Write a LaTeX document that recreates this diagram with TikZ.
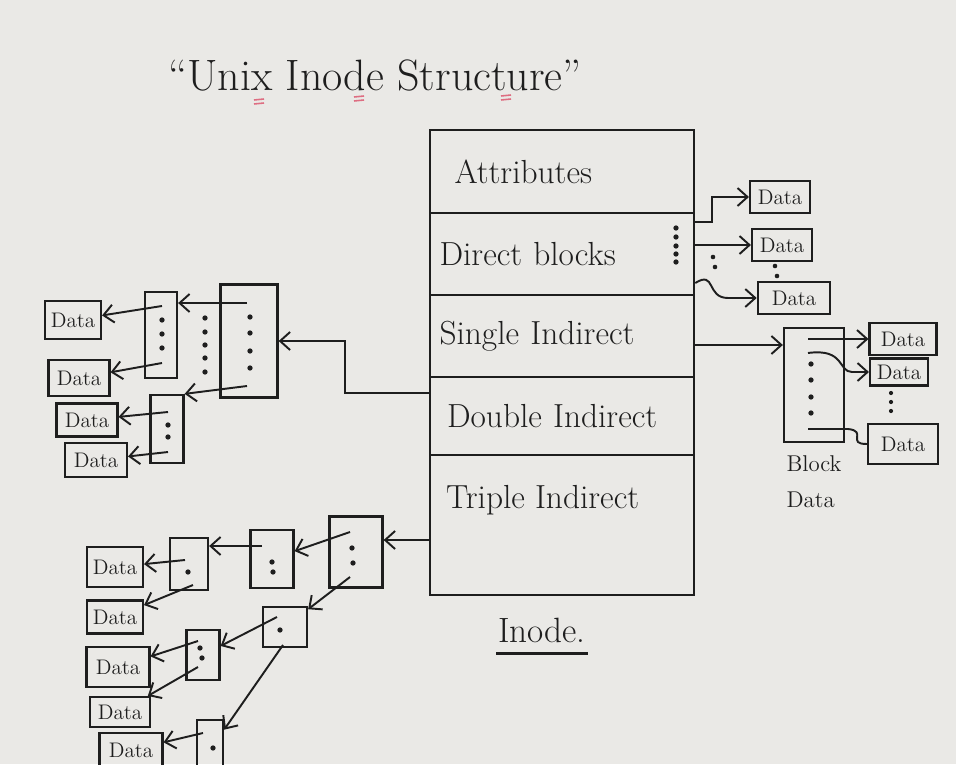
\documentclass[tikz,border=0pt]{standalone}
\usepackage{fontspec}
\usepackage{xcolor}
\usepackage{tikz}
\usetikzlibrary{arrows.meta,positioning}

\definecolor{board}{RGB}{234,233,230}
\definecolor{ink}{RGB}{30,30,30}
\definecolor{marker}{RGB}{222,110,130}

\begin{document}
\begin{tikzpicture}[
  x=0.02cm, y=-0.02cm,
  >={Straight Barb[length=2mm,width=3.6mm]},
  irow/.style={draw=ink, line width=1.5pt, text=ink, minimum width=5.28cm,
               text width=4.9cm, align=left, inner sep=0pt,
               font=\fontsize{19}{22}\selectfont},
  blk/.style={draw=ink, line width=1.3pt, inner sep=0pt},
  dbox/.style={draw=ink, line width=1.2pt, text=ink, minimum width=1.2cm,
               minimum height=0.64cm, inner sep=1pt, font=\fontsize{12}{14}\selectfont},
  ptr/.style={->, line width=1.1pt, draw=ink},
  wire/.style={line width=1.1pt, draw=ink},
  lbl/.style={text=ink, inner sep=1pt}
]
\useasboundingbox (0,0) rectangle (956,764);
\clip (0,0) rectangle (956,764);
\fill[board] (0,0) rectangle (956,764);

% title
\node[lbl, font=\fontsize{25}{30}\selectfont] (title) at (375,75) {“Unix Inode Structure”};
\foreach \mx/\my in {259/102,359/99,506/98}
  \draw[marker, line width=0.9pt] (\mx-5,\my-2) -- (\mx+5,\my-3) (\mx-5,\my+2) -- (\mx+5,\my+1);

% inode table
\node[irow, minimum height=1.66cm] (attr)   at (562,171.5) {\hspace{0.3cm}Attributes};
\node[irow, minimum height=1.64cm] (direct) at (562,254)   {Direct blocks};
\node[irow, minimum height=1.64cm] (single) at (562,336)   {Single Indirect};
\node[irow, minimum height=1.56cm] (double) at (562,416)   {\hspace{0.15cm}Double Indirect};
\node[irow, minimum height=2.8cm]  (triple) at (562,525)   {};
\node[lbl, font=\fontsize{19}{22}\selectfont, anchor=west] (tripletxt) at (444,500) {Triple Indirect};
\node[lbl, font=\fontsize{20}{24}\selectfont] (inodelbl) at (542,630) {Inode.};
\draw[wire, line width=1.5pt] ([yshift=-5pt]inodelbl.south west) -- ([yshift=-5pt]inodelbl.south east);
\foreach \dy in {228,237,246,254,262}
  \fill[ink] (676,\dy) circle (1.5pt);

% direct blocks
\node[dbox] (d1) at (780,197) {Data};
\node[dbox] (d2) at (782,245) {Data};
\node[dbox, minimum width=1.45cm] (d3) at (794,298) {Data};
\draw[ptr] (direct.east |- 0,222) -- (712,222) |- (d1);
\draw[ptr] (direct.east |- d2) -- (d2);
\draw[ptr] (direct.east |- 0,283) .. controls (716,270) and (706,298) .. (728,298) -- (d3);
\fill[ink] (713,257) circle (1.3pt) (715,267) circle (1.3pt)
           (775,266) circle (1.3pt) (777,276) circle (1.3pt);

% single indirect
\node[blk, minimum width=1.2cm, minimum height=2.28cm] (sblk) at (814,385) {};
\node[dbox, minimum width=1.34cm] (sd1) at (903,339) {Data};
\node[dbox, minimum width=1.16cm, minimum height=0.54cm] (sd2) at (899,372) {Data};
\node[dbox, minimum width=1.4cm, minimum height=0.8cm] (sd3) at (903,444) {Data};
\coordinate (se1) at (808,339);
\coordinate (se2) at (808,353);
\coordinate (se3) at (808,429);
\draw[ptr] (single.east |- 0,345) -- (sblk.west |- 0,345);
\draw[ptr] (se1) -- (sd1);
\draw[ptr] (se2) .. controls (845,348) and (838,372) .. (852,372) -- (sd2);
\draw[wire] (se3) -- (848,429) .. controls (868,431) and (846,444) .. (sd3.west);
\foreach \dy in {364,380,397,413}
  \fill[ink] (811,\dy) circle (1.5pt);
\foreach \dy in {393,402,411}
  \fill[ink] (891,\dy) circle (1.2pt);
\node[lbl, font=\fontsize{13}{21}\selectfont, align=left, below=2mm of sblk] (blklbl) {Block\\Data};

% double indirect
\node[blk, minimum width=1.14cm, minimum height=2.26cm] (dblk) at (249,341) {};
\node[blk, minimum width=0.64cm, minimum height=1.72cm] (db1) at (161,335) {};
\node[blk, minimum width=0.66cm, minimum height=1.36cm] (db2) at (167,429) {};
\node[dbox, minimum width=1.12cm, minimum height=0.76cm] (dd1) at (73,320) {Data};
\node[dbox, minimum width=1.22cm, minimum height=0.72cm] (dd2) at (79,378) {Data};
\node[dbox, minimum width=1.22cm, minimum height=0.66cm] (dd3) at (87,420) {Data};
\node[dbox, minimum width=1.24cm, minimum height=0.68cm] (dd4) at (96,460) {Data};
\coordinate (de1) at (247,303);
\coordinate (de2) at (247,386);
\coordinate (b1e1) at (162,306);
\coordinate (b1e2) at (162,363);
\coordinate (b2e1) at (168,412);
\coordinate (b2e2) at (168,452);
\draw[ptr] (double.west |- 0,393) -- (345,393) |- (dblk);
\draw[ptr] (de1) -- (de1 -| db1.east);
\draw[ptr] (de2) -- (db2.north east);
\draw[ptr] (b1e1) -- (dd1);
\draw[ptr] (b1e2) -- (dd2);
\draw[ptr] (b2e1) -- (dd3);
\draw[ptr] (b2e2) -- (dd4);
\foreach \dy in {317,333,351,368}
  \fill[ink] (250,\dy) circle (1.5pt);
\foreach \dy in {318,332,345,358,372}
  \fill[ink] (205,\dy) circle (1.5pt);
\foreach \dy in {320,334,348}
  \fill[ink] (162,\dy) circle (1.5pt);
\foreach \dy in {425,437}
  \fill[ink] (168,\dy) circle (1.5pt);

% triple indirect
\node[blk, minimum width=1.06cm, minimum height=1.42cm] (tblk) at (356,552) {};
\node[blk, minimum width=0.86cm, minimum height=1.16cm] (t2) at (272,559) {};
\node[blk, minimum width=0.76cm, minimum height=1.04cm] (t3) at (189,564) {};
\node[blk, minimum width=0.88cm, minimum height=0.8cm]  (t4) at (285,627) {};
\node[blk, minimum width=0.66cm, minimum height=1cm]    (t5) at (203,655) {};
\node[blk, minimum width=0.52cm, minimum height=1.2cm]  (t6) at (210,750) {};
\node[dbox, minimum width=1.12cm, minimum height=0.8cm]  (dt1) at (115,567) {Data};
\node[dbox, minimum width=1.12cm, minimum height=0.66cm] (dt2) at (115,617) {Data};
\node[dbox, minimum width=1.26cm, minimum height=0.8cm]  (dt3) at (118,667) {Data};
\node[dbox, minimum width=1.2cm, minimum height=0.6cm]   (dt4) at (120,712) {Data};
\node[dbox, minimum width=1.26cm, minimum height=0.68cm] (dt5) at (131,750) {Data};
\coordinate (te1) at (350,532);
\coordinate (te2) at (350,577);
\coordinate (t2e) at (262,546);
\coordinate (t3e1) at (185,560);
\coordinate (t3e2) at (193,585);
\coordinate (t4e1) at (277,617);
\coordinate (t4e2) at (283,645);
\coordinate (t5e1) at (198,641);
\coordinate (t5e2) at (198,667);
\coordinate (t6e) at (203,733);
\draw[ptr] (triple.west |- 0,540) -- (tblk.east |- 0,540);
\draw[ptr] (te1) -- (t2);
\draw[ptr] (te2) -- (t4);
\draw[ptr] (t2e) -- (t2e -| t3.east);
\draw[ptr] (t3e1) -- (dt1);
\draw[ptr] (t3e2) -- (dt2);
\draw[ptr] (t4e1) -- (t5);
\draw[ptr] (t4e2) -- (t6);
\draw[ptr] (t5e1) -- (dt3);
\draw[ptr] (t5e2) -- (dt4);
\draw[ptr] (t6e) -- (dt5);
\fill[ink] (352,548) circle (1.5pt) (353,563) circle (1.5pt)
           (272,562) circle (1.5pt) (273,572) circle (1.5pt)
           (188,572) circle (1.5pt) (280,630) circle (1.5pt)
           (200,648) circle (1.5pt) (202,658) circle (1.5pt)
           (213,748) circle (1.5pt);
\end{tikzpicture}
\end{document}
